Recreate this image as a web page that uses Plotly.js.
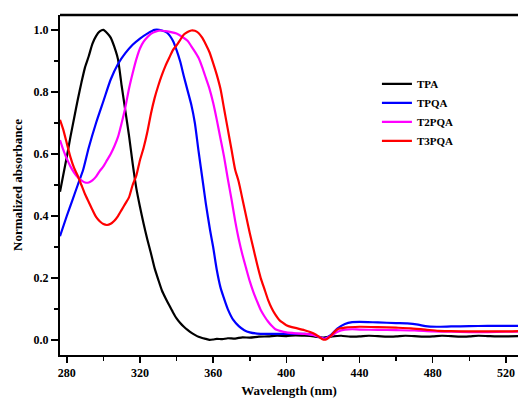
<!DOCTYPE html>
<html>
<head>
<meta charset="utf-8">
<script src="https://cdn.plot.ly/plotly-3.0.1.min.js"></script>
<style>html,body{margin:0;padding:0;background:#fff;}#chart{width:518px;height:401px;}</style>
</head>
<body>
<div id="chart"></div>
<script>
// ---- Data ----
const seriesNames = ["TPA", "TPQA", "T2PQA", "T3PQA"];
const seriesColors = ["#000000", "#0000ff", "#ff00ff", "#ff0000"];

const tpaX = [276.3,278,280,282,284,286,288,290,292,294,296,298,300,302,304,306,308,310,312,314,316,318,320,322,324,326,328,330,332,334,336,338,340,342,344,346,348,350,352,354,356,358,360,362,365,368,372,376,380,385,390,395,400,405,410,415,420,425,430,435,440,445,450,455,460,465,470,475,480,485,490,495,500,505,510,515,520,527];
const tpaY = [0.478,0.53,0.59,0.655,0.715,0.775,0.83,0.88,0.915,0.955,0.98,0.995,1.0,0.99,0.975,0.945,0.905,0.82,0.74,0.66,0.57,0.49,0.43,0.375,0.325,0.28,0.232,0.195,0.16,0.135,0.112,0.09,0.07,0.055,0.043,0.033,0.024,0.017,0.011,0.007,0.004,0.001,0.002,0.004,0.003,0.006,0.005,0.009,0.008,0.011,0.012,0.014,0.013,0.015,0.014,0.012,0.008,0.012,0.014,0.011,0.012,0.014,0.013,0.011,0.012,0.014,0.013,0.011,0.012,0.014,0.013,0.011,0.012,0.014,0.013,0.012,0.012,0.013];

const tpqaX = [276.3,280,283,286,289,292,296,300,304,308,312,316,320,324,328,332,335,338,340,342,344,346,348,350,352,354.6,356,358.3,360,362,364,365.6,368,371,374,377,380,384,390,400,410,415,418,421,424,428,432,436,440,450,460,466,472,476,482,490,500,510,520,527];
const tpqaY = [0.335,0.4,0.45,0.5,0.55,0.62,0.7,0.77,0.84,0.89,0.925,0.952,0.972,0.988,1.0,0.998,0.99,0.965,0.935,0.898,0.85,0.805,0.76,0.7,0.61,0.5,0.44,0.355,0.3,0.226,0.17,0.14,0.1,0.065,0.045,0.032,0.025,0.021,0.02,0.02,0.02,0.017,0.01,0.005,0.015,0.038,0.052,0.058,0.059,0.057,0.055,0.054,0.05,0.045,0.043,0.044,0.045,0.046,0.046,0.046];

const t2pqaX = [276.3,278,280,282,284,286,288,290,292,294,296,298,300,302,304,306,308,310,312,314,316,318,320,322,324,326,328,331,334,337,340,343,346,348,350,352,354,356,358,360,362,364,366,368,370,372,374,376,378,380,382,384,386,388,390,392,394,397,400,405,410,415,418,421,424,428,432,436,440,450,460,470,480,490,500,510,520,527];
const t2pqaY = [0.645,0.615,0.585,0.56,0.54,0.525,0.515,0.508,0.508,0.515,0.527,0.545,0.56,0.58,0.6,0.625,0.655,0.7,0.75,0.81,0.86,0.905,0.94,0.962,0.976,0.987,0.993,0.998,0.996,0.993,0.988,0.978,0.965,0.948,0.93,0.91,0.88,0.845,0.81,0.765,0.71,0.65,0.59,0.52,0.455,0.385,0.325,0.275,0.232,0.19,0.155,0.125,0.097,0.077,0.06,0.046,0.035,0.029,0.025,0.022,0.02,0.016,0.01,0.004,0.012,0.027,0.034,0.035,0.034,0.033,0.032,0.031,0.028,0.027,0.026,0.026,0.027,0.027];

const t3pqaX = [276.3,278,280,282,284,286,288,290,292,294,296,298,300,302,304,306,308,310,312,314,316,318,320,322,324,326,328,330,332,334,336,338,340,342,344,346,348,350,352,354,356,358,360,362,364,366,368,370,372,374,376,378,380,382,384,386,388,390,392,394,396,398,400,403,406,410,413,416,418,420,422,424,426,428,432,440,450,460,468,476,483,490,500,510,520,527];
const t3pqaY = [0.71,0.68,0.635,0.59,0.555,0.53,0.5,0.47,0.445,0.42,0.397,0.383,0.374,0.371,0.375,0.385,0.4,0.42,0.44,0.46,0.5,0.53,0.58,0.62,0.67,0.73,0.78,0.82,0.855,0.885,0.91,0.935,0.95,0.968,0.985,0.993,0.998,0.997,0.99,0.975,0.953,0.928,0.893,0.855,0.81,0.745,0.68,0.615,0.55,0.51,0.455,0.4,0.345,0.295,0.245,0.2,0.165,0.13,0.103,0.082,0.066,0.056,0.048,0.042,0.038,0.032,0.026,0.018,0.01,0.002,0.003,0.012,0.025,0.035,0.04,0.043,0.042,0.04,0.038,0.034,0.03,0.029,0.028,0.028,0.028,0.029];

const xTicks = [280, 320, 360, 400, 440, 480, 520];
const yTicks = [0.0, 0.2, 0.4, 0.6, 0.8, 1.0];
const yTickText = ["0.0", "0.2", "0.4", "0.6", "0.8", "1.0"];

// ---- Build traces ----
const xs = [tpaX, tpqaX, t2pqaX, t3pqaX];
const ys = [tpaY, tpqaY, t2pqaY, t3pqaY];
const traces = seriesNames.map((n, i) => ({
  type: "scatter", mode: "lines", name: n,
  x: xs[i], y: ys[i],
  line: {color: seriesColors[i], width: 2.2, shape: "spline", smoothing: 0.6}
}));

const serif = "Liberation Serif, Times New Roman, serif";
const layout = {
  width: 518, height: 401,
  margin: {l: 60, r: 0, t: 15, b: 46},
  paper_bgcolor: "#ffffff", plot_bgcolor: "#ffffff",
  showlegend: true,
  legend: {
    x: 0.692, y: 0.84, xanchor: "left", yanchor: "top",
    bgcolor: "rgba(0,0,0,0)", borderwidth: 0,
    font: {family: serif, size: 11, color: "#000", weight: "bold"},
    tracegroupgap: 0
  },
  xaxis: {
    range: [276.3, 526.6],
    tickvals: xTicks, ticktext: xTicks.map(String),
    ticks: "outside", ticklen: 6, tickwidth: 1.5, tickcolor: "#000",
    minor: {dtick: 20, tick0: 280, ticks: "outside", ticklen: 4, tickwidth: 1.5, tickcolor: "#000"},
    showline: true, linecolor: "#000", linewidth: 2, mirror: false,
    showgrid: false, zeroline: false,
    tickfont: {family: serif, size: 12, color: "#000", weight: "bold"},
    title: {text: "Wavelength (nm)", font: {family: serif, size: 13, color: "#000", weight: "bold"}, standoff: 6}
  },
  yaxis: {
    range: [-0.048, 1.048],
    tickvals: yTicks, ticktext: yTickText,
    ticks: "outside", ticklen: 7, tickwidth: 1.5, tickcolor: "#000",
    minor: {dtick: 0.1, tick0: 0, ticks: "outside", ticklen: 4, tickwidth: 1.5, tickcolor: "#000"},
    showline: true, linecolor: "#000", linewidth: 2, mirror: false,
    showgrid: false, zeroline: false,
    tickfont: {family: serif, size: 12, color: "#000", weight: "bold"},
    title: {text: "Normalized absorbance", font: {family: serif, size: 13, color: "#000", weight: "bold"}, standoff: 8}
  },
  shapes: [
    {type: "line", xref: "paper", yref: "paper", x0: 0, x1: 1, y0: 1, y1: 1, line: {color: "#000", width: 2.5}}
  ]
};

Plotly.newPlot("chart", traces, layout, {displayModeBar: false, staticPlot: true});
</script>
</body>
</html>
